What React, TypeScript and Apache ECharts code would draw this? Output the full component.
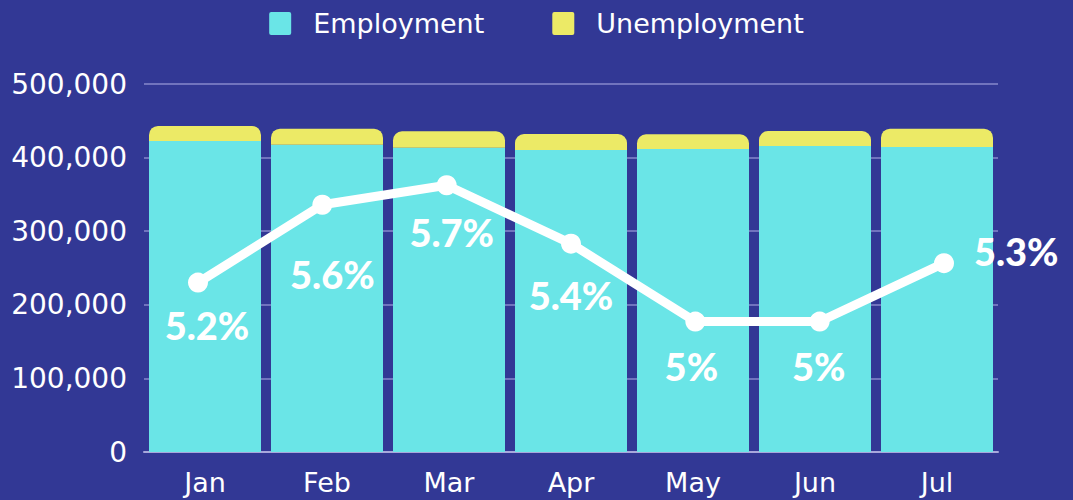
import React, { useEffect, useRef } from "react";
import * as echarts from "echarts";

const months = ["Jan", "Feb", "Mar", "Apr", "May", "Jun", "Jul"];
const employment = [422600, 417500, 413500, 410300, 411700, 415800, 414400];
const unemployment = [20400, 21800, 22200, 21700, 19900, 20300, 24900];
const unemploymentRate = [5.2, 5.6, 5.7, 5.4, 5.0, 5.0, 5.3];
const yTicks = { min: 0, max: 500000, interval: 100000 };
const rateAxis = { min: 4.33, max: 6.22 };

// per-point label nudges (label placement differs per point in the reference)
const labelOffsets: [number, number][] = [
  [9, 0],
  [10, 27],
  [5, 5],
  [0, 9],
  [-4, 2],
  [-1, 2],
  [0, -12],
];

const AXIS_FONT = "'DejaVu Sans', sans-serif";
const LABEL_FONT = "Lato, sans-serif";
const LEGEND_ICON =
  "path://M2,0L20,0Q22,0 22,2L22,21Q22,23 20,23L2,23Q0,23 0,21L0,2Q0,0 2,0Z";

export default function App() {
  const ref = useRef<HTMLDivElement>(null);
  useEffect(() => {
    const chart = echarts.init(ref.current!, undefined, { renderer: "svg" });
    const last = unemploymentRate.length - 1;
    chart.setOption({
      animation: false,
      backgroundColor: "#323895",
      textStyle: { fontFamily: AXIS_FONT },
      legend: {
        top: 5,
        left: "center",
        itemWidth: 22,
        itemHeight: 23,
        itemGap: 68,
        icon: LEGEND_ICON,
        data: ["Employment", "Unemployment"],
        textStyle: { color: "#ffffff", fontSize: 27, fontFamily: AXIS_FONT, padding: [0, 0, 0, 17] },
      },
      grid: [
        { left: 144, right: 75, top: 84, bottom: 48, containLabel: false },
        { left: 198, right: 129, top: 84, bottom: 48, containLabel: false },
      ],
      xAxis: [
        {
          type: "category",
          gridIndex: 0,
          data: months,
          axisTick: { show: false },
          axisLine: { lineStyle: { color: "#a8a8dc", width: 2 } },
          axisLabel: { color: "#ffffff", fontSize: 27, fontFamily: AXIS_FONT, margin: 17 },
        },
        {
          type: "category",
          gridIndex: 1,
          data: months,
          boundaryGap: false,
          show: false,
        },
      ],
      yAxis: [
        {
          type: "value",
          gridIndex: 0,
          min: yTicks.min,
          max: yTicks.max,
          interval: yTicks.interval,
          axisLine: { show: false },
          axisTick: { show: false },
          splitLine: { lineStyle: { color: "rgba(190,190,240,0.45)", width: 2 } },
          axisLabel: {
            color: "#ffffff",
            fontSize: 28,
            fontFamily: AXIS_FONT,
            margin: 17,
            formatter: (v: number) => v.toLocaleString("en-US"),
          },
        },
        {
          type: "value",
          gridIndex: 1,
          min: rateAxis.min,
          max: rateAxis.max,
          show: false,
          splitLine: { show: false },
        },
      ],
      series: [
        {
          name: "Employment",
          type: "bar",
          stack: "total",
          data: employment,
          barWidth: 112,
          itemStyle: { color: "#6ae5e7" },
        },
        {
          name: "Unemployment",
          type: "bar",
          stack: "total",
          data: unemployment,
          barWidth: 112,
          itemStyle: { color: "#ecea66", borderRadius: [9, 9, 0, 0] },
        },
        {
          name: "Rate",
          type: "line",
          xAxisIndex: 1,
          yAxisIndex: 1,
          data: unemploymentRate.map((v, i) =>
            i === last
              ? { value: v, label: { position: "right", distance: 20, offset: labelOffsets[i] } }
              : { value: v, label: { offset: labelOffsets[i] } }
          ),
          symbol: "circle",
          symbolSize: 20,
          lineStyle: { color: "#ffffff", width: 9 },
          itemStyle: { color: "#ffffff" },
          label: {
            show: true,
            position: "bottom",
            distance: 13,
            color: "#ffffff",
            fontSize: 38,
            fontWeight: 900,
            fontFamily: LABEL_FONT,
            formatter: (p: any) => p.value + "%",
          },
        },
      ],
    });
    return () => chart.dispose();
  }, []);
  return (
    <div
      ref={ref}
      style={{ position: "fixed", left: 0, top: 0, width: 1073, height: 500 }}
    />
  );
}
